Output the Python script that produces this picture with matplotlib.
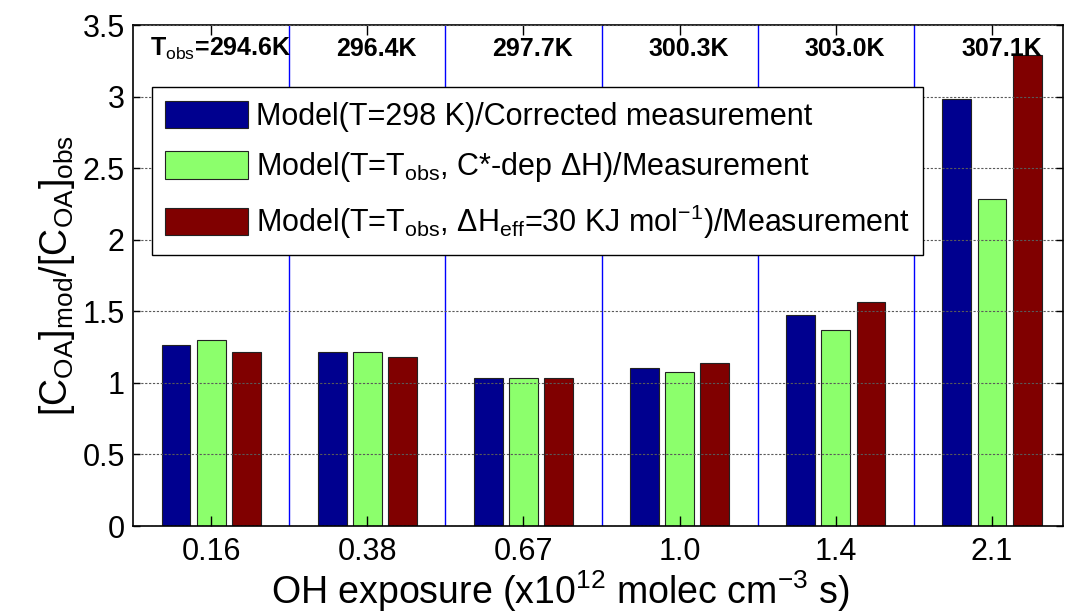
import matplotlib
matplotlib.use("Agg")
import matplotlib.pyplot as plt
import numpy as np
from matplotlib.ticker import FuncFormatter

plt.rcParams['font.family'] = ['Liberation Sans', 'DejaVu Sans']
plt.rcParams['mathtext.fontset'] = 'custom'
plt.rcParams['mathtext.rm'] = 'Liberation Sans'
plt.rcParams['mathtext.it'] = 'Liberation Sans:italic'
plt.rcParams['mathtext.bf'] = 'Liberation Sans:bold'

# OH exposure groups and observed temperatures
exposure_labels = ['0.16', '0.38', '0.67', '1.0', '1.4', '2.1']
t_obs_labels = ['T$_{\\rm obs}$=294.6K', '296.4K', '297.7K', '300.3K', '303.0K', '307.1K']

# ratio model / measurement
ratio_298 = [1.265, 1.218, 1.032, 1.102, 1.474, 2.98]
ratio_cdep = [1.298, 1.218, 1.032, 1.078, 1.37, 2.283]
ratio_heff = [1.218, 1.183, 1.032, 1.137, 1.565, 3.29]

series_labels = [
    'Model(T=298 K)/Corrected measurement',
    'Model(T=T$_{\\rm obs}$, C*-dep ΔH)/Measurement',
    'Model(T=T$_{\\rm obs}$, ΔH$_{\\rm eff}$=30 KJ mol$^{-1}$)/Measurement',
]
colors = ['#00008F', '#8CFF6C', '#800000']

fig = plt.figure(figsize=(10.67, 6.13), dpi=100)
ax = fig.add_axes([0.1247, 0.1419, 0.8716, 0.8173])

x = np.arange(1, len(exposure_labels) + 1)
width = 0.185
offsets = [-0.225, 0.0, 0.225]
for vals, off, c, lab in zip([ratio_298, ratio_cdep, ratio_heff], offsets, colors, series_labels):
    ax.bar(x + off, vals, width, color=c, edgecolor='#222222', linewidth=0.8, label=lab, zorder=1)

# separators between groups
for xs in x[:-1] + 0.5:
    ax.axvline(xs, color='blue', linewidth=1.0, zorder=2)

ax.set_xlim(0.5, 6.455)
ax.set_ylim(0, 3.5)
ax.set_xticks(x)
ax.set_xticklabels(exposure_labels)
ax.set_yticks(np.arange(0, 3.51, 0.5))
ax.yaxis.set_major_formatter(FuncFormatter(lambda v, p: '%g' % v))
ax.tick_params(direction='in', top=True, right=True, labelsize=22, width=1)
ax.tick_params(axis='x', length=7, pad=8)
ax.tick_params(axis='y', length=5, pad=6)

ax.set_axisbelow(False)
ax.yaxis.grid(True, linestyle=(0, (2, 1.5)), color='0.35', linewidth=0.8)

for xi, lab in zip(x, t_obs_labels):
    ax.text(xi + 0.06, 3.33, lab, ha='center', va='center', fontsize=18, fontweight='bold', zorder=3)

ax.set_xlabel('OH exposure (x10$^{12}$ molec cm$^{-3}$ s)', fontsize=27, labelpad=0)
ax.xaxis.set_label_coords(0.459, -0.085)
ax.set_ylabel('[C$_{\\rm OA}$]$_{\\rm mod}$/[C$_{\\rm OA}$]$_{\\rm obs}$', fontsize=27, labelpad=4)

leg = ax.legend(loc='upper left', bbox_to_anchor=(0.02, 0.876), fontsize=22, fancybox=False,
                framealpha=1, edgecolor='black', handlelength=2.7, handleheight=1.0,
                borderpad=0.45, labelspacing=0.6, handletextpad=0.25, borderaxespad=0)
leg.get_frame().set_linewidth(1.0)
leg.set_zorder(5)

for s in ax.spines.values():
    s.set_linewidth(1.2)

fig.savefig('out.png', dpi=100)
